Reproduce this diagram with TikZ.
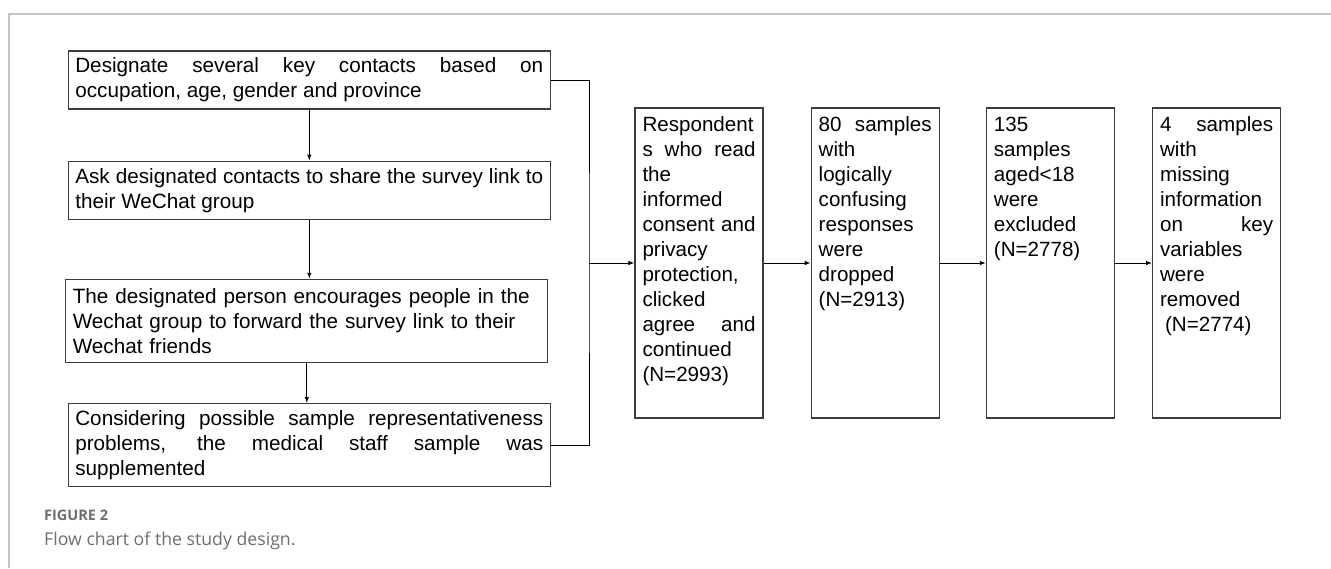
\documentclass[tikz,border=0pt]{standalone}
\usepackage{fontspec}
\setmainfont{Liberation Sans}
\newfontfamily\capfont{Open Sans}
\usepackage{tikz}
\usetikzlibrary{positioning}
\usetikzlibrary{arrows.meta}
\definecolor{framegray}{HTML}{C4C4C4}
\definecolor{boxline}{HTML}{3C3C3C}
\definecolor{capgray}{HTML}{6E6E6E}
\tikzset{
    leftbox/.style={draw=boxline, line width=1.2pt, text width=468pt, inner xsep=7pt, inner ysep=0pt,
        align=justify, font=\fontsize{20.7}{25}\selectfont},
    tallbox/.style={draw=boxline, line width=1.2pt, inner xsep=7.5pt, inner ysep=0pt,
        font=\fontsize{20.6}{25}\selectfont},
    flowarrow/.style={-{Latex[length=6pt,width=4.5pt]}, line width=0.9pt}
}
\newcommand{\tallpar}[1]{\parbox[c][310pt][t]{113pt}{\rule{0pt}{23pt}#1}}

\begin{document}
\begin{tikzpicture}[x=1pt, y=-1pt]
                \useasboundingbox (0,0) rectangle (1331,568);
                \draw[framegray, line width=2pt] (1331,14) -- (9,14) -- (9,568);

                \node[leftbox, minimum height=58pt] (b1) at (309.3,80) {Designate several key contacts based on\linebreak occupation, age, gender and province};
                \node[leftbox, minimum height=58pt, below=51pt of b1] (b2) {Ask designated contacts to share the survey link to\linebreak their WeChat group};
                \node[leftbox, minimum height=83pt, align=left, below=59pt of b2, xshift=-2.5pt] (b3) {The designated person encourages people in the\\Wechat group to forward the survey link to their\\Wechat friends};
                \node[leftbox, minimum height=83pt, below=40pt of b3, xshift=2.5pt] (b4) {Considering possible sample representativeness\linebreak problems, the medical staff sample was\linebreak supplemented};

                \node[tallbox] (b5) at (699,263) {\tallpar{Respondent\linebreak s who read\linebreak the\linebreak informed\linebreak consent and\linebreak privacy\linebreak protection,\linebreak clicked\linebreak agree and\linebreak continued\linebreak (N=2993)}};
                \node[tallbox, right=47pt of b5] (b6) {\tallpar{80 samples\linebreak with\linebreak logically\linebreak confusing\linebreak responses\linebreak were\linebreak dropped\linebreak (N=2913)}};
                \node[tallbox, right=46pt of b6] (b7) {\tallpar{135\linebreak samples\linebreak aged<18\linebreak were\linebreak excluded\linebreak (N=2778)}};
                \node[tallbox, right=37pt of b7] (b8) {\tallpar{4 samples\linebreak with\linebreak missing\linebreak information\linebreak on key\linebreak variables\linebreak were\linebreak removed\linebreak \hspace*{5pt}(N=2774)}};

                \coordinate (jn) at (589,263);
                \draw[flowarrow] (b1) -- (b2);
                \draw[flowarrow] (b2) -- (b3.north -| b2.south);
                \draw[flowarrow] (b3.south) -- (b3.south |- b4.north);
                \draw[line width=0.9pt] (b1.east) -| (jn) |- (b4.east);
                \draw[flowarrow] (jn) -- (b5);
                \draw[flowarrow] (b5) -- (b6);
                \draw[flowarrow] (b6) -- (b7);
                \draw[flowarrow] (b7) -- (b8);

                \node[anchor=base west, text=capgray, font=\capfont\bfseries\fontsize{14.5}{17}\selectfont, inner sep=0pt] (figlabel) at (44,520) {FIGURE 2};
                \node[anchor=base west, text=capgray, font=\capfont\fontsize{17.7}{21}\selectfont, inner sep=0pt] (figcaption) at (44,545) {Flow chart of the study design.};
            \end{tikzpicture}
\end{document}
